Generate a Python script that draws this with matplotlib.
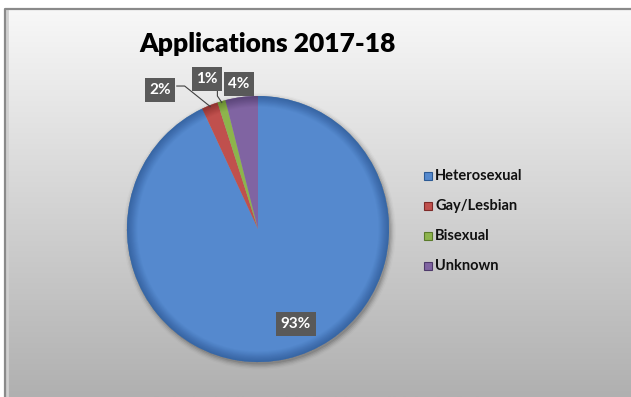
import numpy as np
import matplotlib
matplotlib.use("Agg")
import matplotlib.pyplot as plt
from matplotlib.patches import Wedge, Rectangle

plt.rcParams['font.family'] = ['Lato', 'DejaVu Sans']

title = "Applications 2017-18"
categories = ["Heterosexual", "Gay/Lesbian", "Bisexual", "Unknown"]
values = [93, 2, 1, 4]
colors = ["#5589CE", "#C0504D", "#8DB44C", "#8064A2"]
rim_colors = ["#2C5A94", "#7E2A28", "#5A7A2A", "#4E3A6A"]

W, H = 631, 397
fig = plt.figure(figsize=(W / 100, H / 100), dpi=100)
fig.patch.set_facecolor("white")

# chart panel with vertical grey gradient
bg = fig.add_axes([0, 0, 1, 1], zorder=0)
bg.set_xlim(0, W)
bg.set_ylim(H, 0)
bg.axis("off")
grad = np.linspace(0, 1, 256)[:, None]
top = np.array([248, 248, 248]) / 255
bot = np.array([176, 176, 176]) / 255
img = top[None, None, :] * (1 - grad[..., None]) + bot[None, None, :] * grad[..., None]
bg.imshow(img, extent=[5, W, H, 9], aspect="auto", zorder=0)
bg.plot([5, 5, W], [H, 9, 9], color="#8a8a8a", lw=1.6, zorder=2)
bg.plot([7, 7], [H, 11], color="#d0d0d0", lw=2, zorder=1)

bg.text(268, 44, title, fontsize=19, fontweight="heavy", ha="center",
        va="center", color="black")

# pie
cx, cy, rx, ry = 258, 229, 131, 133
ax = fig.add_axes([(cx - rx) / W, (H - cy - ry) / H, 2 * rx / W, 2 * ry / H], zorder=1)
ax.set_xlim(-1, 1)
ax.set_ylim(-1, 1)
ax.axis("off")

# soft drop shadow
for k, a in enumerate(np.linspace(0.10, 0.02, 5)):
    ax.add_patch(Wedge((0.012, -0.018), 1.0 + 0.01 * k, 0, 360,
                       facecolor="black", alpha=a, lw=0, zorder=0, clip_on=False))

total = sum(values)
angles = []
start = 90.0
for v, c, rc in zip(values, colors, rim_colors):
    sweep = 360.0 * v / total
    t1, t2 = start - sweep, start
    ax.add_patch(Wedge((0, 0), 1.0, t1, t2, facecolor=c, edgecolor="none",
                       zorder=2, clip_on=False))
    # bevel: darker rim near the edge
    n = 10
    for i in range(n):
        r_in = 0.92 + 0.08 * i / n
        a = 0.06 + 0.10 * i / n
        ax.add_patch(Wedge((0, 0), 1.0, t1, t2, width=1.0 - r_in,
                           facecolor=rc, alpha=a, lw=0, zorder=3, clip_on=False))
    angles.append((t1, t2))
    start = t1

box = dict(boxstyle="square,pad=0.3", facecolor="#595959", edgecolor="none")
label_pos = [(0.29, -0.714), (-0.748, 1.045), (-0.39, 1.128), (-0.145, 1.09)]
for v, (lx, ly) in zip(values, label_pos):
    ax.text(lx, ly, f"{v}%", fontsize=11, fontweight="bold", color="white",
            ha="center", va="center", bbox=box, zorder=6, clip_on=False)

# leader lines to the two thin slices
t1, t2 = angles[1]
m = np.deg2rad((t1 + t2) / 2)
ax.plot([-0.62, -0.56, np.cos(m) * 0.99], [1.075, 1.075, np.sin(m) * 0.99],
        color="#404040", lw=0.8, zorder=5, clip_on=False)
t1, t2 = angles[2]
m = np.deg2rad((t1 + t2) / 2)
ax.plot([-0.31, -0.31, np.cos(m) * 0.99], [1.06, 1.0, np.sin(m) * 0.99],
        color="#404040", lw=0.8, zorder=5, clip_on=False)

# legend
ly0, dy = 176, 30.0
for i, (name, c, rc) in enumerate(zip(categories, colors, rim_colors)):
    y = ly0 + dy * i
    bg.add_patch(Rectangle((424, y - 4), 8, 8, facecolor=c, edgecolor=rc, lw=0.8, zorder=3))
    bg.text(435, y, name, fontsize=10.5, fontweight="bold", va="center",
            ha="left", color="#111111", zorder=3)

fig.savefig("out.png", dpi=100)
